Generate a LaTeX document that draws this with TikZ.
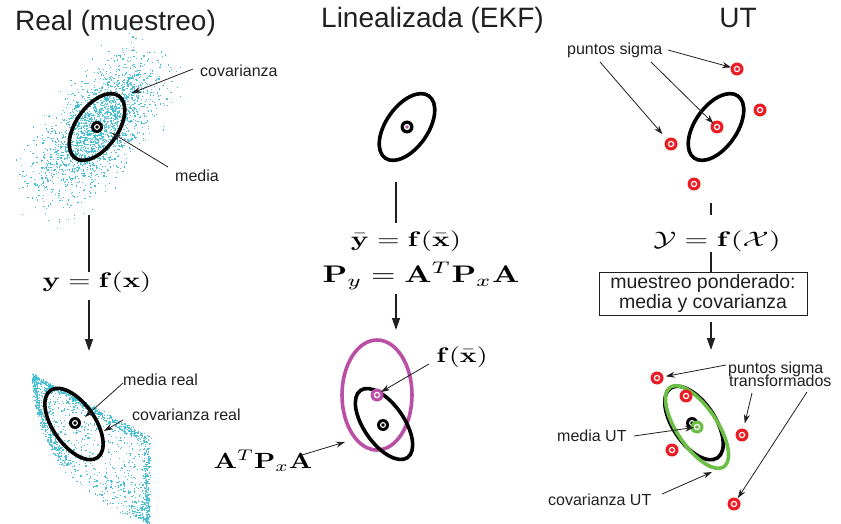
\documentclass[tikz,border=0pt]{standalone}
\usepackage[no-math]{fontspec}
\usepackage{graphicx}
\usetikzlibrary{arrows.meta,calc}
\newfontfamily\labfamily{Liberation Sans}
\definecolor{cloudc}{RGB}{70,192,214}
\definecolor{sigred}{RGB}{236,28,36}
\definecolor{ekfmag}{RGB}{186,80,166}
\definecolor{utgreen}{RGB}{108,190,68}
\definecolor{txt}{RGB}{35,31,32}
\newcommand\labfont{\labfamily\fontsize{16}{17}\selectfont}
\newcommand\titlefont{\labfamily\fontsize{28}{30}\selectfont}
\newcommand\boxfont{\labfamily\fontsize{19.5}{14}\selectfont}
\newcommand\fml[3]{\scalebox{#1}[#2]{$#3$}}
\tikzset{
  lab/.style={font=\labfont, inner sep=0pt, text=txt},
  ttl/.style={font=\titlefont, inner sep=0pt, text=txt},
  mth/.style={inner sep=0pt},
  ell/.style={line width=3.6pt},
  ptr/.style={-{Stealth[length=9pt,width=6pt]}, line width=0.8pt, txt},
  flow/.style={line width=1.3pt, txt},
  flowarr/.style={-{Triangle[length=12pt,width=8pt]}, line width=1.3pt, txt},
  sig/.pic={\fill[sigred] (0,0) circle (6.5); \draw[white,line width=1.2pt] (0,0) circle (2.6);},
  meanblk/.pic={\fill[black] (0,0) circle (6); \draw[white,line width=1.1pt] (0,0) circle (2.4);},
  meanmagc/.pic={\fill[black] (0,0) circle (6.5); \fill[white] (0,0) circle (3.2); \fill[ekfmag] (0,0) circle (1.8);},
  meanmag/.pic={\fill[ekfmag] (0,0) circle (6.5); \draw[white,line width=1.2pt] (0,0) circle (2.6);},
  meangrn/.pic={\fill[utgreen] (0,0) circle (6.5); \draw[white,line width=1.2pt] (0,0) circle (2.6);},
}
\begin{document}
\begin{tikzpicture}[x=1pt,y=-1pt]
\useasboundingbox (0,0) rectangle (841,524);

% ---------- titles
\node[ttl, anchor=base west] (t1) at (15,31) {Real (muestreo)};
\node[ttl, anchor=base west] (t2) at (321,28) {Linealizada (EKF)};
\node[ttl, anchor=base] (t3) at (738,28) {UT};

% ---------- left column: sampled cloud
\pgfmathsetseed{4242}
\foreach \i in {1,...,2100}{
  \pgfmathsetmacro\ua{40*(rand+rand+rand)}
  \pgfmathsetmacro\va{19*(rand+rand+rand)}
  \pgfmathsetmacro\px{97+0.62*\ua+0.785*\va}
  \pgfmathsetmacro\py{127-0.785*\ua+0.62*\va}
  \fill[cloudc] (\px,\py) rectangle ++(1.2,1.2);
}
\draw[ell] (97,127) ellipse [x radius=38, y radius=21, rotate=55];
\coordinate (m1) at (97,127);
\pic at (m1) {meanblk};
\node[lab, anchor=base west] (cov1) at (200,77) {covarianza};
\node[lab, anchor=base west] (med1) at (175,182) {media};
\coordinate (cov1s) at (193,69);
\coordinate (cov1t) at (132,93);
\coordinate (med1s) at (168,167);
\coordinate (med1t) at (112,133);
\draw[ptr] (cov1s) -- (cov1t);
\draw[ptr] (med1s) -- (med1t);

\coordinate (l1a) at (89,215);
\coordinate (l1b) at (89,272);
\draw[flow] (l1a) -- (l1b);
\node[mth] (f1) at (97,282) {\fml{2.856}{2.1}{\mathbf{y}=\mathbf{f}(\mathbf{x})}};
\coordinate (l1c) at (89,300);
\coordinate (l1d) at (89,351);
\draw[flowarr] (l1c) -- (l1d);

% ---------- left column: transformed cloud
\foreach \n/\ulo/\uhi/\vlo/\vhi in {750/0/1/0/1, 420/0/0.5/0.88/1, 320/0/0.5/0/0.12, 170/0.5/1/0.9/1}{
  \foreach \i in {1,...,\n}{
    \pgfmathsetmacro\u{\ulo+(\uhi-\ulo)*rnd}
    \pgfmathsetmacro\v{\vlo+(\vhi-\vlo)*rnd}
    \pgfmathsetmacro\lx{(1-\u)^2*33+2*\u*(1-\u)*35+\u^2*148}
    \pgfmathsetmacro\ly{(1-\u)^2*375+2*\u*(1-\u)*485+\u^2*522}
    \pgfmathsetmacro\rx{\u<0.5 ? 33+234*\u : 150-2*(2*\u-1)}
    \pgfmathsetmacro\ry{\u<0.5 ? 375+124*\u : 437+85*(2*\u-1)}
    \pgfmathsetmacro\px{\lx+\v*(\rx-\lx)+1.5*rand}
    \pgfmathsetmacro\py{\ly+\v*(\ry-\ly)+1.5*rand}
    \fill[cloudc] (\px,\py) rectangle ++(1.2,1.2);
  }
}
\draw[ell] (74,424) ellipse [x radius=41, y radius=21, rotate=-55];
\coordinate (m1b) at (75,423);
\pic at (m1b) {meanblk};
\node[lab, anchor=base west] (mr) at (123,385) {media real};
\node[lab, anchor=base west] (cr) at (132,420) {covarianza real};
\coordinate (mrs) at (123,383);
\coordinate (mrt) at (85,417);
\coordinate (crs) at (123,420);
\coordinate (crt) at (104,431);
\draw[ptr] (mrs) -- (mrt);
\draw[ptr] (crs) -- (crt);

% ---------- middle column
\draw[ell] (407,127) ellipse [x radius=38, y radius=21, rotate=55];
\coordinate (m2) at (407,127);
\pic at (m2) {meanmagc};
\coordinate (l2a) at (396,182);
\coordinate (l2b) at (396,223);
\draw[flow] (l2a) -- (l2b);
\node[mth] (f2) at (406,241) {\fml{2.898}{2.1}{\bar{\mathbf{y}}=\mathbf{f}(\bar{\mathbf{x}})}};
\node[mth] (f3) at (421,276) {\fml{3.144}{2.4}{\mathbf{P}_y=\mathbf{A}^T\mathbf{P}_x\mathbf{A}}};
\coordinate (l2c) at (396,294);
\coordinate (l2d) at (396,330);
\draw[flowarr] (l2c) -- (l2d);

\draw[ell, ekfmag] (377,395) ellipse [x radius=35, y radius=55];
\draw[ell] (384,424) ellipse [x radius=41, y radius=20, rotate=-55];
\coordinate (m2m) at (377,395);
\coordinate (m2b) at (383,425);
\pic at (m2m) {meanmag};
\pic at (m2b) {meanblk};
\node[mth] (fx) at (462,357) {\fml{2.772}{2.1}{\mathbf{f}(\bar{\mathbf{x}})}};
\node[mth] (apa) at (263,461) {\fml{2.706}{2.2}{\mathbf{A}^T\mathbf{P}_x\mathbf{A}}};
\coordinate (fxs) at (429,364);
\coordinate (fxt) at (381,392);
\coordinate (apas) at (302,455);
\coordinate (apat) at (345,442);
\draw[ptr] (fxs) -- (fxt);
\draw[ptr] (apas) -- (apat);

% ---------- right column top
\draw[ell] (716,127) ellipse [x radius=38, y radius=21, rotate=55];
\coordinate (s1) at (737,69);
\coordinate (s2) at (760,110);
\coordinate (s0) at (717,127);
\coordinate (s3) at (671,144);
\coordinate (s4) at (694,184);
\foreach \p in {s1,s2,s0,s3,s4}{\pic at (\p) {sig};}
\node[lab, anchor=base west] (ps) at (567,55) {puntos sigma};
\coordinate (psa) at (668,50);
\coordinate (psb) at (651,62);
\coordinate (psc) at (600,62);
\draw[ptr, shorten >=6pt] (psa) -- (s1);
\draw[ptr, shorten >=5pt] (psb) -- (s0);
\draw[ptr, shorten >=13pt] (psc) -- (s3);

\coordinate (l3a) at (711,203);
\coordinate (l3b) at (711,215);
\draw[flow] (l3a) -- (l3b);
\node[mth] (f4) at (717,241) {\fml{3.045}{2.1}{\mathcal{Y}=\mathbf{f}(\mathcal{X})}};
\coordinate (l3c) at (711,252);
\draw[flow] (l3c) -- (l3c |- 0,272);
\node[draw=txt, line width=0.9pt, font=\boxfont, text=txt, align=center,
      minimum width=208pt, minimum height=43pt, inner sep=0pt] (bx) at (703,293.5)
      {muestreo ponderado:\\media y covarianza};
\coordinate (l3d) at (711,350);
\draw[flowarr] (l3d |- bx.south) ++(0,7) -- (l3d);

% ---------- right column bottom
\draw[ell] (694,423) ellipse [x radius=42, y radius=21, rotate=-56];
\draw[ell, utgreen] (697,427) ellipse [x radius=48, y radius=20, rotate=-56];
\coordinate (u1) at (657,378);
\coordinate (u2) at (686,396);
\coordinate (u3) at (742,435);
\coordinate (u4) at (672,450);
\coordinate (u5) at (734,504);
\foreach \p in {u1,u2,u3,u4,u5}{\pic at (\p) {sig};}
\coordinate (mu) at (697,427);
\pic at (692,423) {meanblk};
\pic at (mu) {meangrn};
\node[lab, anchor=base west] (pst1) at (728,373) {puntos sigma};
\node[lab, anchor=base west] (pst2) at (729,386) {transformados};
\node[lab, anchor=base west] (mut) at (557,441) {media UT};
\node[lab, anchor=base west] (cut) at (548,505) {covarianza UT};
\coordinate (pa) at (726,365);
\coordinate (pb) at (752,393);
\coordinate (pc) at (807,392);
\draw[ptr, shorten >=9pt] (pa) -- (u1);
\draw[ptr, shorten >=12pt] (pb) -- (u3);
\draw[ptr, shorten >=7pt] (pc) -- (u5);
\coordinate (mus) at (634,436);
\coordinate (cus) at (662,494);
\coordinate (cut2) at (712,472);
\draw[ptr, shorten >=3pt] (mus) -- (mu);
\draw[ptr] (cus) -- (cut2);
\end{tikzpicture}
\end{document}
